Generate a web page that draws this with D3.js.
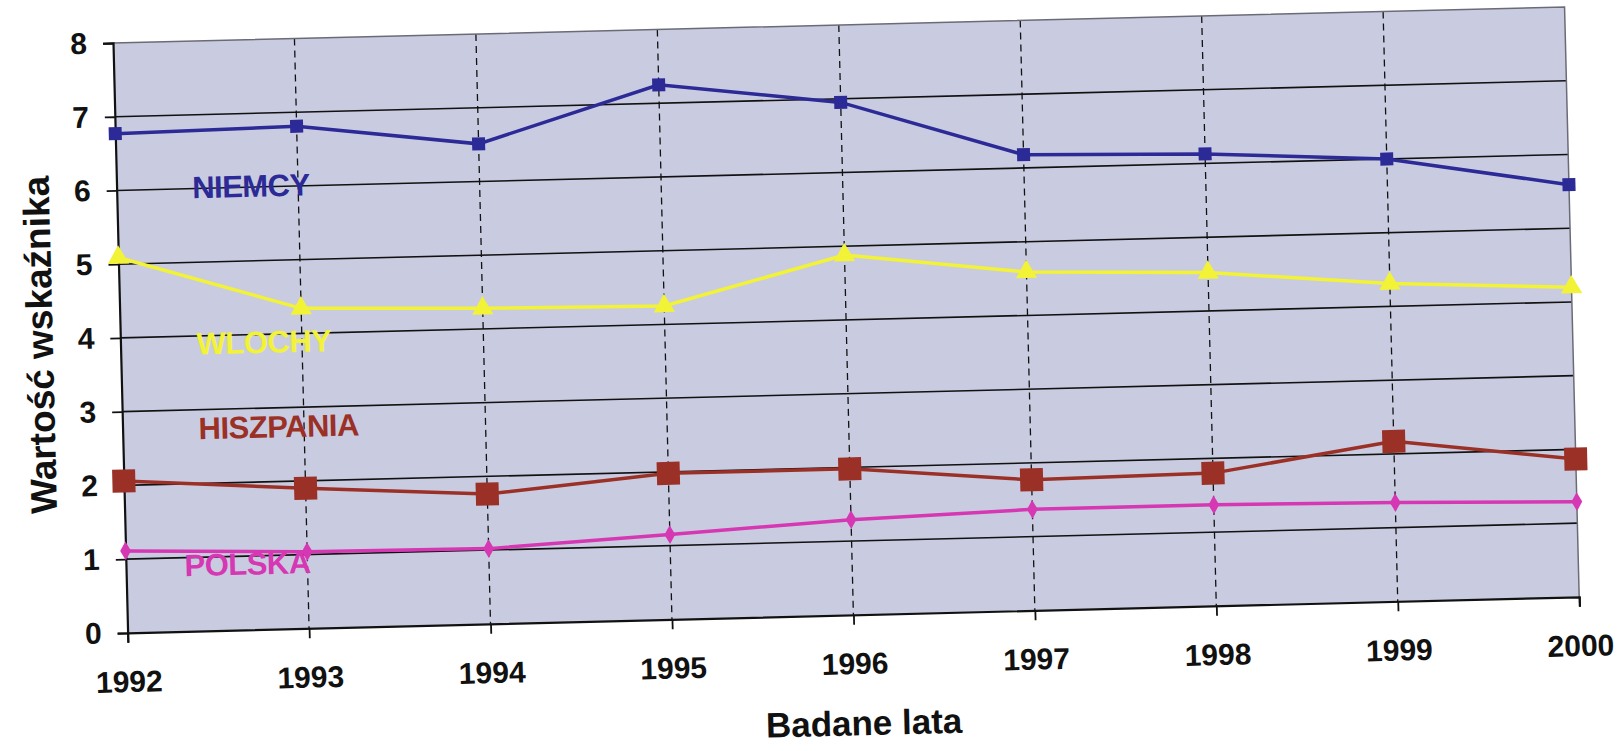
<!DOCTYPE html>
<html>
<head>
<meta charset="utf-8">
<script src="https://cdn.jsdelivr.net/npm/d3@7"></script>
<style>
  body { margin: 0; background: #ffffff; }
  svg { display: block; font-family: "Liberation Sans", Arial, sans-serif; }
</style>
</head>
<body>
<figure id="chart" style="margin:0"></figure>
<script>
// values
const years = [1992, 1993, 1994, 1995, 1996, 1997, 1998, 1999, 2000];
const niemcy = [6.77, 6.81, 6.51, 7.25, 6.95, 6.18, 6.13, 6.0, 5.59];
const wlochy = [5.09, 4.34, 4.28, 4.25, 4.88, 4.59, 4.52, 4.31, 4.2];
const hiszpania = [2.06, 1.9, 1.76, 1.98, 1.98, 1.77, 1.8, 2.17, 1.87];
const polska = [1.11, 1.04, 1.02, 1.15, 1.29, 1.37, 1.37, 1.34, 1.29];
const yTicks = [0, 1, 2, 3, 4, 5, 6, 7, 8];

const width = 1623;
const height = 751;
const plotW = 1452;
const plotH = 590;

const series = [
  { name: 'NIEMCY', values: niemcy, color: '#2c2a96', marker: 'square', size: 13, lx: 1992.74, ly: 6.02 },
  { name: 'WLOCHY', values: wlochy, color: '#f2f236', marker: 'triangle', size: 14, lx: 1992.79, ly: 3.9 },
  { name: 'HISZPANIA', values: hiszpania, color: '#9b3027', marker: 'square', size: 23, lx: 1992.86, ly: 2.75 },
  { name: 'POLSKA', values: polska, color: '#d637b3', marker: 'diamond', size: 13, lx: 1992.67, ly: 0.9 }
];

const svg = d3.select('figure#chart')
  .append('svg')
  .attr('width', width)
  .attr('height', height);

// the scan is slightly tilted, so the whole chart is turned a little
const g = svg.append('g')
  .attr('transform', 'translate(113,43) rotate(-1.42)');

const x = d3.scaleLinear().domain([1992, 2000]).range([0, plotW]);
const y = d3.scaleLinear().domain([0, 8]).range([plotH, 0]);

// plot background
g.append('rect')
  .attr('width', plotW)
  .attr('height', plotH)
  .attr('fill', '#c9cce0');

// horizontal grid
g.selectAll('.hgrid')
  .data(yTicks.filter(d => d > 0 && d < 8))
  .enter()
  .append('line')
  .attr('x1', 0)
  .attr('x2', plotW)
  .attr('y1', d => y(d))
  .attr('y2', d => y(d))
  .attr('stroke', '#111')
  .attr('stroke-width', 1.6);

// vertical dashed grid
g.selectAll('.vgrid')
  .data(years.slice(1, -1))
  .enter()
  .append('line')
  .attr('x1', d => x(d))
  .attr('x2', d => x(d))
  .attr('y1', 0)
  .attr('y2', plotH)
  .attr('stroke', '#111')
  .attr('stroke-width', 1.3)
  .attr('stroke-dasharray', '7,5');

// top and right frame
g.append('path')
  .attr('d', 'M0,0H' + plotW + 'V' + plotH)
  .attr('fill', 'none')
  .attr('stroke', '#6b6b78')
  .attr('stroke-width', 1.5);

// axes
const yAxis = g.append('g')
  .call(d3.axisLeft(y).tickValues(yTicks).tickSize(10).tickPadding(16).tickFormat(d3.format('d')));
const xAxis = g.append('g')
  .attr('transform', 'translate(0,' + plotH + ')')
  .call(d3.axisBottom(x).tickValues(years).tickSize(10).tickPadding(28).tickFormat(d3.format('d')));

[yAxis, xAxis].forEach(a => {
  a.select('.domain').attr('stroke', '#111').attr('stroke-width', 2.2);
  a.selectAll('.tick line').attr('stroke', '#111').attr('stroke-width', 1.8);
  a.selectAll('text')
    .attr('fill', '#111')
    .style('font-weight', 'bold');
});
yAxis.selectAll('text').style('font-size', '30px');
xAxis.selectAll('text').style('font-size', '30px');

// lines
const line = d3.line()
  .x((d, i) => x(years[i]))
  .y(d => y(d));

series.forEach(s => {
  g.append('path')
    .datum(s.values)
    .attr('d', line)
    .attr('fill', 'none')
    .attr('stroke', s.color)
    .attr('stroke-width', 3.5);

  const symType = s.marker === 'square' ? d3.symbolSquare
    : s.marker === 'triangle' ? d3.symbolTriangle : d3.symbolDiamond;
  const sym = d3.symbol().type(symType).size(s.marker === 'diamond' ? s.size * s.size * 0.6 : s.size * s.size);

  g.selectAll('.m-' + s.name)
    .data(s.values)
    .enter()
    .append('path')
    .attr('d', sym)
    .attr('transform', (d, i) => 'translate(' + x(years[i]) + ',' + y(d) + ')')
    .attr('fill', s.color);
});

// series names
series.forEach(s => {
  g.append('text')
    .attr('x', x(s.lx))
    .attr('y', y(s.ly))
    .attr('dy', '0.36em')
    .attr('text-anchor', 'middle')
    .attr('fill', s.color)
    .style('font-size', '31px')
    .style('font-weight', 'bold')
    .style('letter-spacing', '-0.5px')
    .text(s.name);
});

// axis titles
g.append('text')
  .attr('x', 734)
  .attr('y', 698)
  .attr('dy', '0.36em')
  .attr('text-anchor', 'middle')
  .attr('fill', '#111')
  .style('font-size', '35px')
  .style('font-weight', 'bold')
  .text('Badane lata');

g.append('text')
  .attr('transform', 'translate(-81,300) rotate(-90)')
  .attr('dy', '0.36em')
  .attr('text-anchor', 'middle')
  .attr('fill', '#111')
  .style('font-size', '37px')
  .style('font-weight', 'bold')
  .text('Wartość wskaźnika');
</script>
</body>
</html>
